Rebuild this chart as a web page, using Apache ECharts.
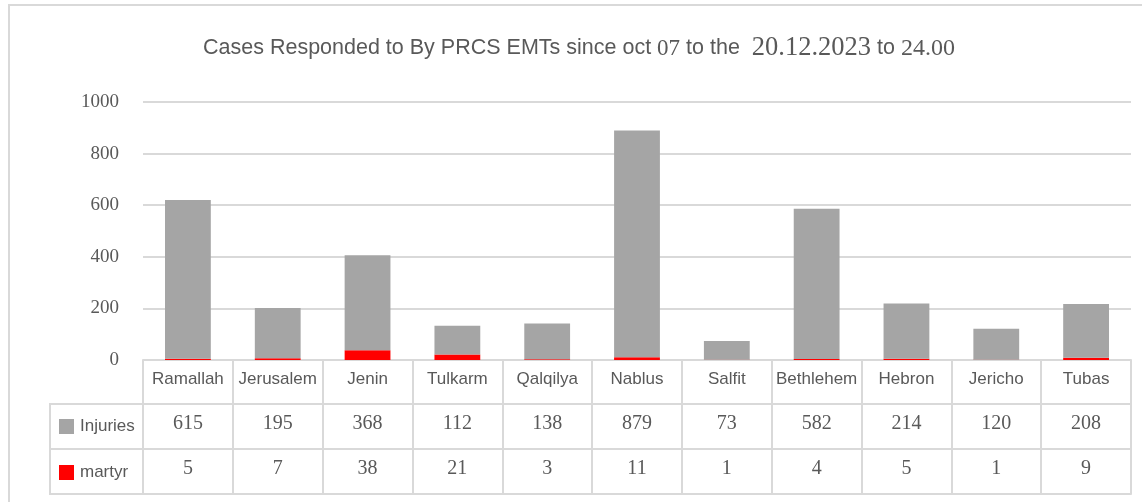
<!DOCTYPE html>
<html>
<head>
<meta charset="utf-8">
<script src="https://cdn.jsdelivr.net/npm/echarts@6/dist/echarts.min.js"></script>
<style>html,body{margin:0;padding:0;background:#fff;}#c{width:1142px;height:502px;}</style>
</head>
<body>
<div id="c"></div>
<script>
var categories = ['Ramallah','Jerusalem','Jenin','Tulkarm','Qalqilya','Nablus','Salfit','Bethlehem','Hebron','Jericho','Tubas'];
var injuries = [615,195,368,112,138,879,73,582,214,120,208];
var martyr = [5,7,38,21,3,11,1,4,5,1,9];
var yTicks = {min:0, max:1000, interval:200};

var grey = '#595959', lineC = '#d9d9d9';
var chart = echarts.init(document.getElementById('c'));
var sansF = '"Liberation Sans", Arial, sans-serif';
var serifF = '"Liberation Serif", "Times New Roman", serif';
chart.setOption({
  animation:false,
  title:{
    text:'{s|Cases Responded to By PRCS EMTs since oct }{n|07}{s| to the  }{d|20.12.2023}{s| to }{t|24.00}',
    left:198, top:30,
    textStyle:{
      fontWeight:'normal',
      rich:{
        s:{fontFamily:sansF, fontSize:21.5, fontWeight:'normal', color:grey},
        n:{fontFamily:serifF, fontSize:23, fontWeight:'normal', color:grey},
        d:{fontFamily:serifF, fontSize:26.5, fontWeight:'normal', color:grey},
        t:{fontFamily:serifF, fontSize:24, fontWeight:'normal', color:grey}
      }
    }
  },
  legend:{
    data:['Injuries','martyr'],
    orient:'vertical', left:59, top:418, padding:0,
    itemWidth:15, itemHeight:15, itemGap:29,
    icon:'rect',
    textStyle:{fontFamily:sansF, fontSize:17, color:grey, padding:[0,0,0,1]},
    selectedMode:false
  },
  grid:{left:143, right:11, top:102, bottom:142, containLabel:false},
  xAxis:[
    {type:'category', data:categories, position:'bottom',
     axisLine:{lineStyle:{color:lineC, width:2}},
     axisTick:{show:true, interval:0, length:134, lineStyle:{color:lineC, width:2}},
     axisLabel:{interval:0, margin:11, fontFamily:sansF, fontSize:17, color:grey}},
    {type:'category', data:injuries.map(String), position:'bottom', offset:44,
     axisLine:{lineStyle:{color:lineC, width:2}}, axisTick:{show:false},
     axisLabel:{interval:0, margin:10, fontFamily:serifF, fontSize:20, color:grey}},
    {type:'category', data:martyr.map(String), position:'bottom', offset:89,
     axisLine:{lineStyle:{color:lineC, width:2}}, axisTick:{show:false},
     axisLabel:{interval:0, margin:10, fontFamily:serifF, fontSize:20, color:grey}},
    {type:'category', data:categories, position:'bottom', offset:134,
     axisLine:{lineStyle:{color:lineC, width:2}}, axisTick:{show:false},
     axisLabel:{show:false}}
  ],
  yAxis:{type:'value', min:yTicks.min, max:yTicks.max, interval:yTicks.interval,
    axisLine:{show:false}, axisTick:{show:false},
    axisLabel:{margin:24, fontFamily:serifF, fontSize:19, color:grey, formatter:function(v){return String(v);}},
    splitLine:{lineStyle:{color:lineC, width:2}}},
  series:[
    {name:'martyr', type:'bar', stack:'a', data:martyr, barWidth:'51%', itemStyle:{color:'#ff0000'}, xAxisIndex:0},
    {name:'Injuries', type:'bar', stack:'a', data:injuries, barWidth:'51%', itemStyle:{color:'#a5a5a5'}, xAxisIndex:0}
  ],
  graphic:[
    {type:'rect', shape:{x:9, y:5, width:1200, height:600}, style:{fill:null, stroke:lineC, lineWidth:2}, silent:true},
    {type:'line', shape:{x1:50, y1:404, x2:50, y2:495}, style:{stroke:lineC, lineWidth:2}},
    {type:'line', shape:{x1:49, y1:404, x2:143, y2:404}, style:{stroke:lineC, lineWidth:2}},
    {type:'line', shape:{x1:49, y1:449, x2:143, y2:449}, style:{stroke:lineC, lineWidth:2}},
    {type:'line', shape:{x1:49, y1:494, x2:143, y2:494}, style:{stroke:lineC, lineWidth:2}}
  ]
});
</script>
</body>
</html>
